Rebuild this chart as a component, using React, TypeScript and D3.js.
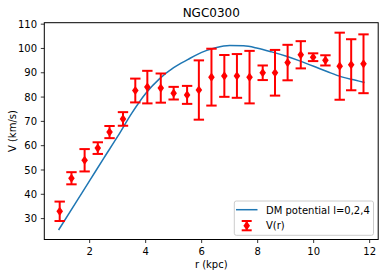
import React from "react";
import * as d3 from "d3";

const rData = [0.93, 1.35, 1.82, 2.29, 2.71, 3.19, 3.63, 4.06, 4.54, 5.0, 5.48, 5.9, 6.35, 6.81, 7.26, 7.71, 8.18, 8.62, 9.07, 9.54, 9.98, 10.42, 10.93, 11.34, 11.78];
const vData = [33.0, 46.6, 54.0, 59.0, 65.6, 71.0, 82.7, 84.1, 83.7, 81.6, 80.9, 82.9, 88.2, 88.7, 88.7, 88.2, 90.0, 90.0, 94.2, 97.4, 96.4, 95.1, 92.7, 93.3, 93.7];
const vErr = [4.0, 2.5, 4.6, 2.4, 2.5, 2.8, 4.9, 6.7, 6.0, 2.6, 3.7, 12.2, 11.7, 8.6, 9.0, 10.8, 3.0, 9.4, 7.3, 5.6, 1.6, 2.1, 13.8, 10.5, 12.1];

const modelR = [0.89, 1.5, 2.0, 2.5, 3.0, 3.5, 4.0, 4.5, 5.0, 5.5, 6.0, 6.5, 7.0, 7.5, 8.0, 8.5, 9.0, 9.5, 10.0, 10.5, 11.0, 11.5, 11.82];
const modelV = [25.3, 36.5, 45.6, 54.8, 63.8, 73.3, 81.5, 87.6, 92.1, 95.4, 98.4, 100.3, 101.2, 101.1, 100.1, 98.6, 96.9, 94.9, 92.7, 90.4, 88.3, 86.9, 86.0];

const xTicks = [2, 4, 6, 8, 10, 12];
const yTicks = [30, 40, 50, 60, 70, 80, 90, 100, 110];

const W = 385;
const H = 277;
const L = 44.3, R = 378.2, T = 22.7, B = 239.5;
const FONT = "DejaVu Sans, sans-serif";

export default function App() {
  const x = d3.scaleLinear().domain([0.38, 12.305]).range([L, R]);
  const y = d3.scaleLinear().domain([21.4, 110.6]).range([B, T]);
  const line = d3
    .line<number>()
    .x((_, i) => x(modelR[i]))
    .y((v) => y(v))
    .curve(d3.curveMonotoneX);
  const diamond = (cx: number, cy: number) =>
    `M${cx},${cy - 4.6}L${cx + 3.3},${cy}L${cx},${cy + 4.6}L${cx - 3.3},${cy}Z`;
  const cap = 5.2;
  const red = "#ff0000";
  const blue = "#1f77b4";

  return (
    <svg width={W} height={H} style={{ position: "absolute", left: 0, top: 0 }} fontFamily={FONT}>
      <rect x={0} y={0} width={W} height={H} fill="white" />
      <text x={(L + R) / 2} y={17} textAnchor="middle" fontSize={12}>NGC0300</text>
      <path d={line(modelV) || ""} fill="none" stroke={blue} strokeWidth={1.5} />
      {rData.map((r, i) => {
        const cx = x(r);
        const top = y(vData[i] + vErr[i]);
        const bot = y(vData[i] - vErr[i]);
        return (
          <g key={i}>
            <line x1={cx} x2={cx} y1={top} y2={bot} stroke={red} strokeWidth={2} />
            <line x1={cx - cap} x2={cx + cap} y1={top} y2={top} stroke={red} strokeWidth={2} />
            <line x1={cx - cap} x2={cx + cap} y1={bot} y2={bot} stroke={red} strokeWidth={2} />
            <path d={diamond(cx, y(vData[i]))} fill={red} />
          </g>
        );
      })}
      <rect x={L} y={T} width={R - L} height={B - T} fill="none" stroke="black" strokeWidth={1} />
      {xTicks.map((t) => (
        <g key={t}>
          <line x1={x(t)} x2={x(t)} y1={B} y2={B + 3.5} stroke="black" strokeWidth={0.8} />
          <text x={x(t)} y={254.5} textAnchor="middle" fontSize={10}>{t}</text>
        </g>
      ))}
      {yTicks.map((t) => (
        <g key={t}>
          <line x1={L - 3.5} x2={L} y1={y(t)} y2={y(t)} stroke="black" strokeWidth={0.8} />
          <text x={37} y={y(t)} dy="0.36em" textAnchor="end" fontSize={10}>{t}</text>
        </g>
      ))}
      <text x={(L + R) / 2} y={268} textAnchor="middle" fontSize={10}>r (kpc)</text>
      <text transform={`translate(15.5,${(T + B) / 2}) rotate(-90)`} textAnchor="middle" fontSize={10}>V (km/s)</text>
      <g>
        <rect x={234.3} y={201} width={139.2} height={34.3} rx={2} fill="white" fillOpacity={0.8} stroke="#cccccc" strokeWidth={1} />
        <line x1={236} x2={257.5} y1={209.7} y2={209.7} stroke={blue} strokeWidth={1.5} />
        <text x={266} y={214.3} fontSize={10}>DM potential l=0,2,4</text>
        <line x1={246.7} x2={246.7} y1={221} y2={230.3} stroke={red} strokeWidth={2} />
        <line x1={241.7} x2={251.7} y1={221} y2={221} stroke={red} strokeWidth={2} />
        <line x1={241.7} x2={251.7} y1={230.3} y2={230.3} stroke={red} strokeWidth={2} />
        <path d={diamond(246.7, 225.7)} fill={red} />
        <text x={266} y={229.3} fontSize={10}>V(r)</text>
      </g>
    </svg>
  );
}
